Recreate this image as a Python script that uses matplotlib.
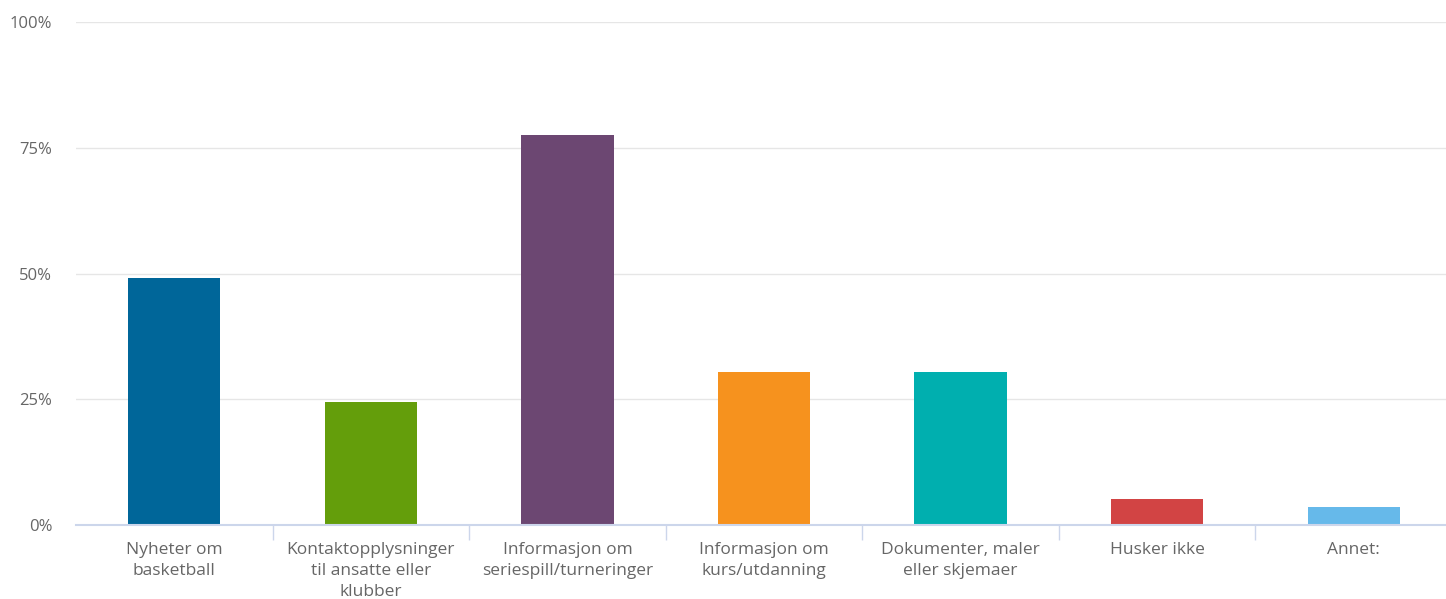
import numpy as np
import matplotlib.pyplot as plt
from matplotlib.ticker import FixedLocator

categories = ['Nyheter om\nbasketball', 'Kontaktopplysninger\ntil ansatte eller\nklubber',
              'Informasjon om\nseriespill/turneringer', 'Informasjon om\nkurs/utdanning',
              'Dokumenter, maler\neller skjemaer', 'Husker ikke', 'Annet:']
values = [49.1, 24.5, 77.5, 30.4, 30.4, 5.2, 3.6]
colors = ['#006699', '#649e0b', '#6c4772', '#f6921e', '#00afaf', '#d24444', '#66b9ea']
yticks = [0, 25, 50, 75, 100]
ytick_labels = ['0%', '25%', '50%', '75%', '100%']

plt.rcParams['font.family'] = ['Open Sans', 'DejaVu Sans']

fig = plt.figure(figsize=(14.46, 5.99), dpi=100)
# plot area runs a little past the right edge, as in the original
ax = fig.add_axes([76 / 1446, 74 / 599, 1376 / 1446, 503 / 599])

x = np.arange(len(categories))
ax.bar(x, values, width=0.47, color=colors, zorder=3)

ax.set_xlim(-0.5, len(categories) - 0.5)
ax.set_ylim(0, 100)
ax.set_yticks(yticks)
ax.set_yticklabels(ytick_labels)
ax.yaxis.grid(True, color='#e6e6e6', linewidth=1, zorder=0)

ax.set_xticks(x)
ax.set_xticklabels(categories, fontsize=12.5, color='#666666', linespacing=1.42, va='top')
ax.xaxis.set_minor_locator(FixedLocator(np.arange(0.5, len(categories) - 1, 1)))
ax.tick_params(axis='x', which='major', length=0, pad=12.5)
ax.tick_params(axis='x', which='minor', length=11, width=1, color='#ccd6eb')
ax.tick_params(axis='y', length=0, pad=17, labelsize=12, labelcolor='#666666')

for side in ['top', 'right', 'left']:
    ax.spines[side].set_visible(False)
ax.spines['bottom'].set_color('#ccd6eb')
ax.spines['bottom'].set_linewidth(1.5)
ax.spines['bottom'].set_zorder(4)

fig.savefig('out.png', dpi=100)
